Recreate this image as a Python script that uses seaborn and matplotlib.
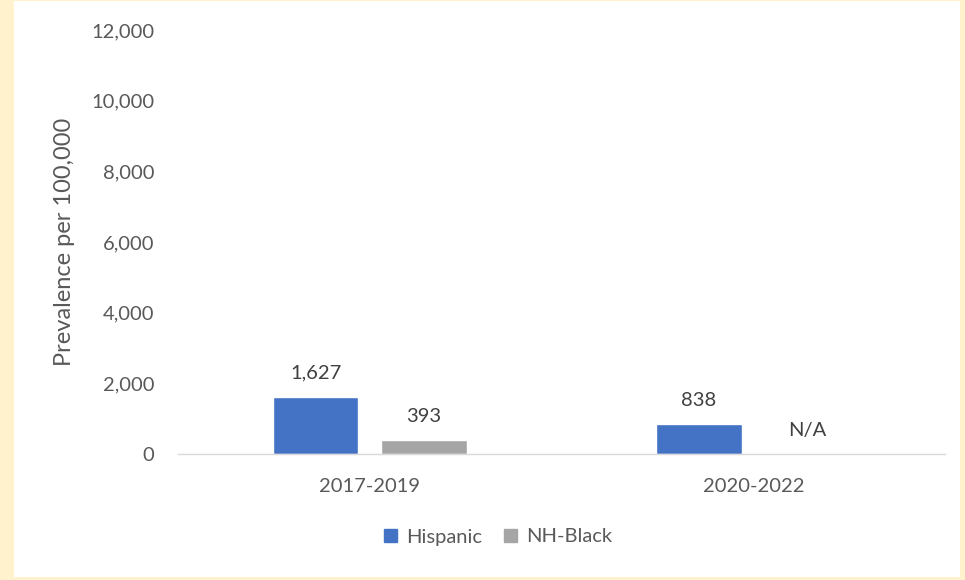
import matplotlib
matplotlib.use("Agg")
import matplotlib.pyplot as plt
import matplotlib.patches as mpatches
import seaborn as sns
import pandas as pd
import numpy as np

periods = ["2017-2019", "2020-2022"]
groups = ["Hispanic", "NH-Black"]
hispanic = [1627, 838]
nh_black = [393, np.nan]
labels_hisp = ["1,627", "838"]
labels_black = ["393", "N/A"]
yticks = [0, 2000, 4000, 6000, 8000, 10000, 12000]
colors = ["#4472C4", "#A5A5A5"]

df = pd.DataFrame({
    "period": periods * 2,
    "group": [groups[0]] * 2 + [groups[1]] * 2,
    "value": hispanic + nh_black,
})

sns.set_theme(style="white")
plt.rcParams["font.family"] = ["Lato", "DejaVu Sans"]
txt = "#595959"
fs = 14.5

fig = plt.figure(figsize=(9.65, 5.8), dpi=100)
fig.patch.set_facecolor("#FFF2CC")
bg = mpatches.Rectangle((14 / 965, 3 / 580), (960 - 14) / 965, (579 - 3) / 580,
                        transform=fig.transFigure, facecolor="white",
                        edgecolor="none", zorder=-10)
fig.patches.append(bg)
ax = fig.add_axes([178 / 965, 1 - 454 / 580, (945 - 178) / 965, (454 - 30) / 580])
ax.set_facecolor("none")
ax.set_zorder(5)

sns.barplot(data=df, x="period", y="value", hue="group", order=periods, hue_order=groups,
            palette=colors, width=0.565, gap=0.21, ax=ax, legend=False, saturation=1)

ax.set_xlim(-0.5, 1.5)
ax.set_ylim(0, 12000)
ax.set_yticks(yticks)
ax.set_yticklabels([f"{v:,}" for v in yticks], color=txt, fontsize=fs)
ax.tick_params(axis="x", colors=txt, labelsize=fs, length=0, pad=17)
ax.tick_params(axis="y", length=0, pad=17)
for lab in ax.get_xticklabels():
    lab.set_color(txt)
ax.set_xlabel("")
ax.set_ylabel("Prevalence per 100,000", color=txt, fontsize=17, labelpad=12)
for s in ["top", "right", "left"]:
    ax.spines[s].set_visible(False)
ax.spines["bottom"].set_color("#D9D9D9")
ax.spines["bottom"].set_linewidth(1)

off = 0.565 / 4
for i, (v, l) in enumerate(zip(hispanic, labels_hisp)):
    ax.annotate(l, (i - off, v), xytext=(0, 11), textcoords="offset points",
                ha="center", va="bottom", color="#404040", fontsize=fs)
for i, (v, l) in enumerate(zip(nh_black, labels_black)):
    yv = 0 if np.isnan(v) else v
    ax.annotate(l, (i + off, yv), xytext=(0, 11), textcoords="offset points",
                ha="center", va="bottom", color="#404040", fontsize=fs)

handles = [mpatches.Patch(color=c, label=g) for c, g in zip(colors, groups)]
fig.legend(handles=handles, loc="center", bbox_to_anchor=(498 / 965, 1 - 537 / 580), ncol=2,
           frameon=False, fontsize=fs, handlelength=0.65, handleheight=0.65,
           handletextpad=0.45, columnspacing=1.1, labelcolor=txt)

fig.savefig("out.png", dpi=100, facecolor=fig.get_facecolor())
